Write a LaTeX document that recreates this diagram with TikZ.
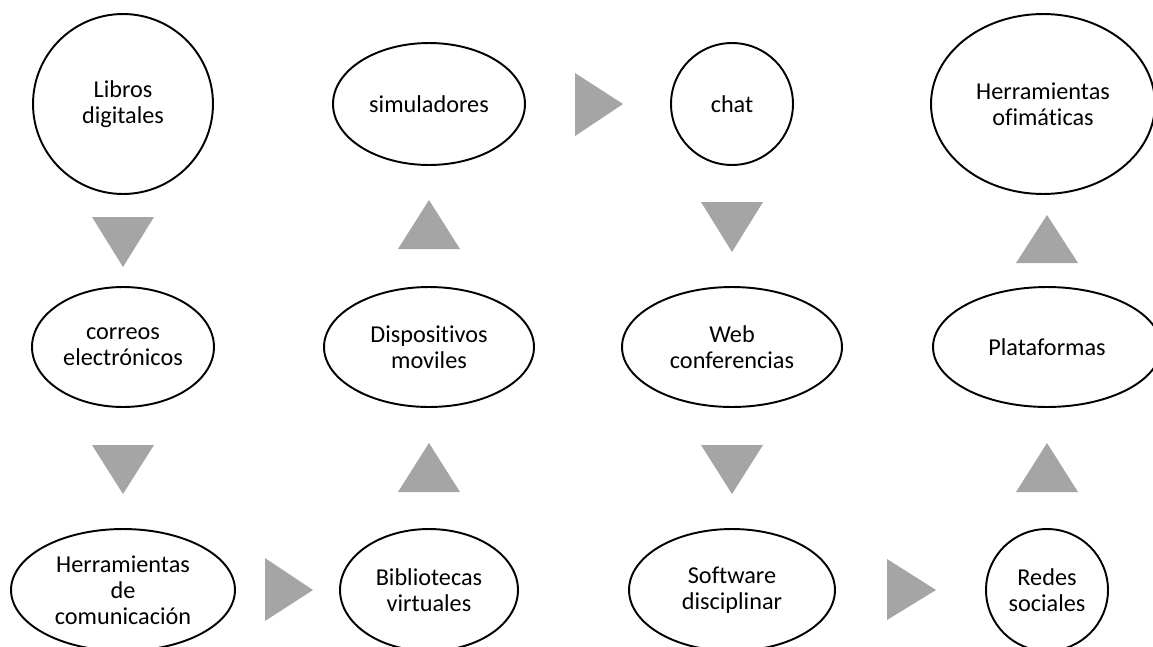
\documentclass[tikz,border=0pt]{standalone}
\usepackage{fontspec}
\setmainfont{Carlito}[Ligatures=NoCommon]
\usepackage{tikz}
\usetikzlibrary{shapes}
\definecolor{arrowgray}{RGB}{165,165,165}

\begin{document}
\begin{tikzpicture}[x=0.02cm, y=0.02cm]
	\tikzstyle{every node}+=[inner sep=0pt]
	\tikzstyle{bubble}=[draw=black, line width=1.1pt, ellipse, align=center, font=\fontsize{13.8}{14.8}\selectfont]
	\tikzstyle{tri}=[fill=arrowgray]
	\useasboundingbox (0,0) rectangle (1153,-646);
	% fila de arriba
	\node [bubble, minimum width=3.6cm, minimum height=3.6cm] (libros) at (123,-104) {Libros\\digitales};
	\node [bubble, minimum width=3.84cm, minimum height=2.44cm] (simuladores) at (429,-104) {simuladores};
	\node [bubble, minimum width=2.44cm, minimum height=2.44cm] (chat) at (732,-104) {chat};
	\node [bubble, minimum width=4.48cm, minimum height=3.6cm] (ofimaticas) at (1043,-104) {Herramientas\\ofimáticas};
	% fila del medio
	\node [bubble, minimum width=3.64cm, minimum height=2.4cm] (correos) at (123,-347) {correos\\electrónicos};
	\node [bubble, minimum width=4.2cm, minimum height=2.4cm] (dispositivos) at (429,-347) {Dispositivos\\moviles};
	\node [bubble, minimum width=4.4cm, minimum height=2.4cm] (web) at (732,-347) {Web\\conferencias};
	\node [bubble, minimum width=4.56cm, minimum height=2.4cm] (plataformas) at (1047,-347) {Plataformas};
	% fila de abajo
	\node [bubble, minimum width=4.48cm, minimum height=2.44cm] (comunicacion) at (123,-590) {Herramientas\\de\\comunicación};
	\node [bubble, minimum width=3.56cm, minimum height=2.44cm] (bibliotecas) at (429,-590) {Bibliotecas\\virtuales};
	\node [bubble, minimum width=4.12cm, minimum height=2.44cm] (software) at (732,-590) {Software\\disciplinar};
	\node [bubble, minimum width=2.44cm, minimum height=2.44cm] (redes) at (1047,-590) {Redes\\sociales};
	% flechas
	\fill [tri] (92,-217) -- (154,-217) -- (123,-267) -- cycle;
	\fill [tri] (92,-445) -- (154,-445) -- (123,-494) -- cycle;
	\fill [tri] (265,-558) -- (313,-590) -- (265,-621) -- cycle;
	\fill [tri] (398,-492) -- (460,-492) -- (429,-443) -- cycle;
	\fill [tri] (398,-249) -- (460,-249) -- (429,-200) -- cycle;
	\fill [tri] (575,-73) -- (623,-104) -- (575,-136) -- cycle;
	\fill [tri] (701,-202) -- (763,-202) -- (732,-252) -- cycle;
	\fill [tri] (701,-445) -- (763,-445) -- (732,-494) -- cycle;
	\fill [tri] (887,-559) -- (936,-590) -- (887,-620) -- cycle;
	\fill [tri] (1016,-492) -- (1078,-492) -- (1047,-443) -- cycle;
	\fill [tri] (1016,-263) -- (1078,-263) -- (1047,-215) -- cycle;
\end{tikzpicture}
\end{document}
